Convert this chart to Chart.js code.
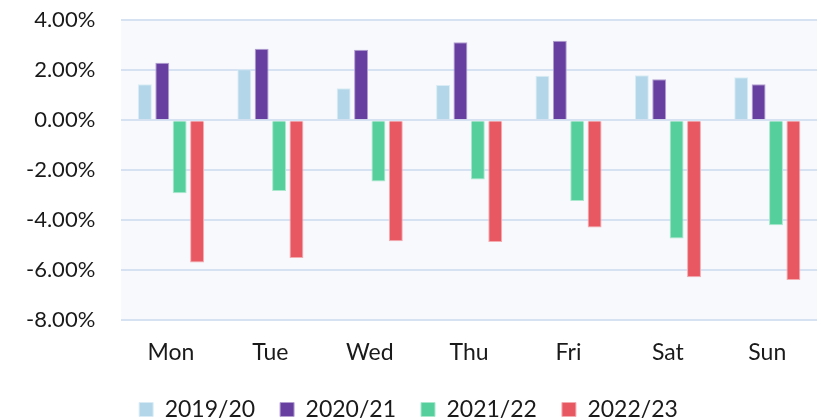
<!DOCTYPE html>
<html>
<head>
<meta charset="utf-8">
<script src="https://cdn.jsdelivr.net/npm/chart.js@4"></script>
<style>
  html, body { margin: 0; padding: 0; background: #fff; }
</style>
</head>
<body>
<canvas id="myChart" width="821" height="420"></canvas>
<script>
const days = ['Mon', 'Tue', 'Wed', 'Thu', 'Fri', 'Sat', 'Sun'];
const s2019 = [1.43, 2.03, 1.27, 1.40, 1.77, 1.79, 1.71];
const s2020 = [2.29, 2.85, 2.81, 3.11, 3.17, 1.63, 1.43];
const s2021 = [-2.92, -2.83, -2.45, -2.37, -3.23, -4.73, -4.20];
const s2022 = [-5.69, -5.51, -4.84, -4.87, -4.29, -6.28, -6.39];
const yTicks = [4, 2, 0, -2, -4, -6, -8];

const plotBg = {
  id: 'plotBg',
  beforeDraw(chart) {
    const a = chart.chartArea;
    const c = chart.ctx;
    c.save();
    c.fillStyle = '#f7f9fd';
    c.fillRect(a.left, a.top, a.right - a.left, a.bottom - a.top);
    c.restore();
  }
};

Chart.defaults.font.family = 'Lato, "Noto Sans", sans-serif';
Chart.defaults.color = '#1a1a1a';

new Chart(document.getElementById('myChart'), {
  type: 'bar',
  data: {
    labels: days,
    datasets: [
      { label: '2019/20', data: s2019, backgroundColor: '#b3d7e8', borderColor: '#d9ecf5', borderWidth: 1 },
      { label: '2020/21', data: s2020, backgroundColor: '#663fa0', borderColor: '#b39fd0', borderWidth: 1 },
      { label: '2021/22', data: s2021, backgroundColor: '#55cf9c', borderColor: '#aae8ce', borderWidth: 1 },
      { label: '2022/23', data: s2022, backgroundColor: '#e85863', borderColor: '#f4acb1', borderWidth: 1 }
    ]
  },
  options: {
    responsive: false,
    animation: false,
    layout: { padding: { top: 0, right: 4, left: 0, bottom: -11 } },
    datasets: { bar: { categoryPercentage: 0.7, barPercentage: 0.8 } },
    scales: {
      x: {
        grid: { display: false },
        border: { display: false },
        ticks: { font: { size: 23 }, padding: 10, maxRotation: 0 },
        afterFit(axis) { axis.height -= 3; }
      },
      y: {
        min: -8,
        max: 4,
        afterBuildTicks(axis) { axis.ticks = yTicks.map(v => ({ value: v })); },
        afterFit(axis) { axis.paddingTop = 20; axis.paddingBottom = 0; },
        grid: { color: '#d6e2f2', lineWidth: 2, drawTicks: false },
        border: { display: false },
        ticks: {
          font: { size: 22 },
          padding: 26,
          callback: v => v.toFixed(2) + '%'
        }
      }
    },
    plugins: {
      legend: {
        position: 'bottom',
        labels: { font: { size: 23 }, boxWidth: 14, boxHeight: 14, padding: 25 }
      },
      tooltip: { enabled: false }
    }
  },
  plugins: [plotBg]
});
</script>
</body>
</html>
